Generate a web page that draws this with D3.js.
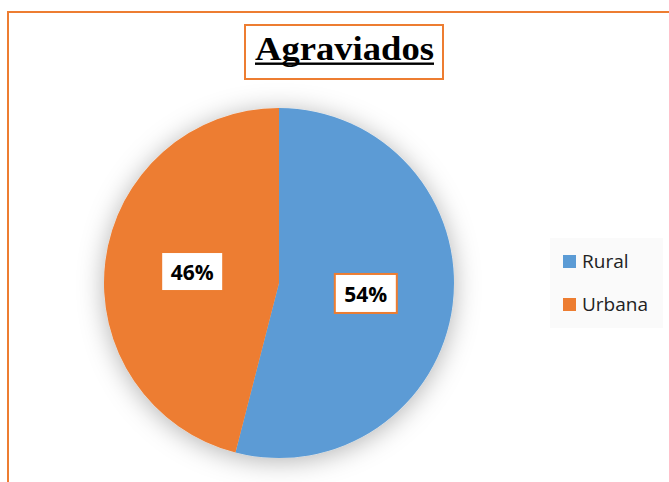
<!DOCTYPE html>
<html>
<head>
<meta charset="utf-8">
<script src="https://cdn.jsdelivr.net/npm/d3@7"></script>
<style>
  body { margin: 0; background: #fff; }
  svg { display: block; }
</style>
</head>
<body>
<svg id="chart"></svg>
<script>
// chart data
const categories = ["Rural", "Urbana"];
const values = [54, 46];
const colors = ["#5B9BD5", "#ED7D31"];
const title = "Agraviados";

const W = 669, H = 482;
const cx = 279, cy = 283, radius = 175;

const svg = d3.select("#chart").attr("width", W).attr("height", H);

// soft shadow around the pie
const defs = svg.append("defs");
const f = defs.append("filter").attr("id", "shadow")
  .attr("x", "-30%").attr("y", "-30%").attr("width", "160%").attr("height", "160%");
f.append("feDropShadow")
  .attr("dx", 0).attr("dy", 3)
  .attr("stdDeviation", 13)
  .attr("flood-color", "#000")
  .attr("flood-opacity", 0.3);

// outer orange frame (runs off the right and bottom)
svg.append("rect")
  .attr("x", 8).attr("y", 12)
  .attr("width", W).attr("height", H)
  .attr("fill", "#fff")
  .attr("stroke", "#ED7D31").attr("stroke-width", 2);

// title box
svg.append("rect")
  .attr("x", 245).attr("y", 25).attr("width", 198).attr("height", 54)
  .attr("fill", "#fff").attr("stroke", "#ED7D31").attr("stroke-width", 2);

svg.append("text")
  .attr("x", 255).attr("y", 60)
  .attr("font-family", "'Liberation Serif', 'Times New Roman', serif")
  .attr("font-weight", "bold")
  .attr("font-size", 33)
  .attr("textLength", 179)
  .attr("lengthAdjust", "spacingAndGlyphs")
  .attr("fill", "#000")
  .text(title);

svg.append("rect")
  .attr("x", 255).attr("y", 62.5).attr("width", 179).attr("height", 2.4)
  .attr("fill", "#000");

// pie
const data = categories.map((c, i) => ({ cat: c, value: values[i], color: colors[i] }));
const pie = d3.pie().sort(null).value(d => d.value);
const arc = d3.arc().innerRadius(0).outerRadius(radius);
const labelArc = d3.arc().innerRadius(radius * 0.5).outerRadius(radius * 0.5);

const g = svg.append("g").attr("transform", `translate(${cx},${cy})`);
const arcs = pie(data);

g.append("g").attr("filter", "url(#shadow)")
  .selectAll("path")
  .data(arcs)
  .enter()
  .append("path")
  .attr("d", arc)
  .attr("fill", d => d.data.color);

const total = d3.sum(values);
const labels = g.selectAll(".lbl")
  .data(arcs)
  .enter()
  .append("g")
  .attr("class", "lbl")
  .attr("transform", d => `translate(${labelArc.centroid(d)})`);

labels.append("rect")
  .attr("x", -31).attr("y", -20).attr("width", 62).attr("height", 39)
  .attr("fill", "#fff")
  .attr("stroke", "#ED7D31").attr("stroke-width", 2);

labels.append("text")
  .attr("text-anchor", "middle")
  .attr("y", 8)
  .attr("font-family", "'Open Sans', 'Noto Sans', sans-serif")
  .attr("font-weight", "bold")
  .attr("font-size", 21)
  .attr("fill", "#000")
  .text(d => Math.round(d.data.value / total * 100) + "%");

// legend
const lg = svg.append("g");
lg.append("rect")
  .attr("x", 550).attr("y", 238).attr("width", 113).attr("height", 90)
  .attr("fill", "#fafafa");

const items = lg.selectAll(".item")
  .data(data)
  .enter()
  .append("g")
  .attr("class", "item")
  .attr("transform", (d, i) => `translate(563, ${255 + i * 43})`);

items.append("rect")
  .attr("width", 13).attr("height", 13)
  .attr("fill", d => d.color);

items.append("text")
  .attr("x", 19).attr("y", 13)
  .attr("font-family", "'Open Sans', 'Noto Sans', sans-serif")
  .attr("font-size", 19)
  .attr("fill", "#222")
  .text(d => d.cat);
</script>
</body>
</html>
